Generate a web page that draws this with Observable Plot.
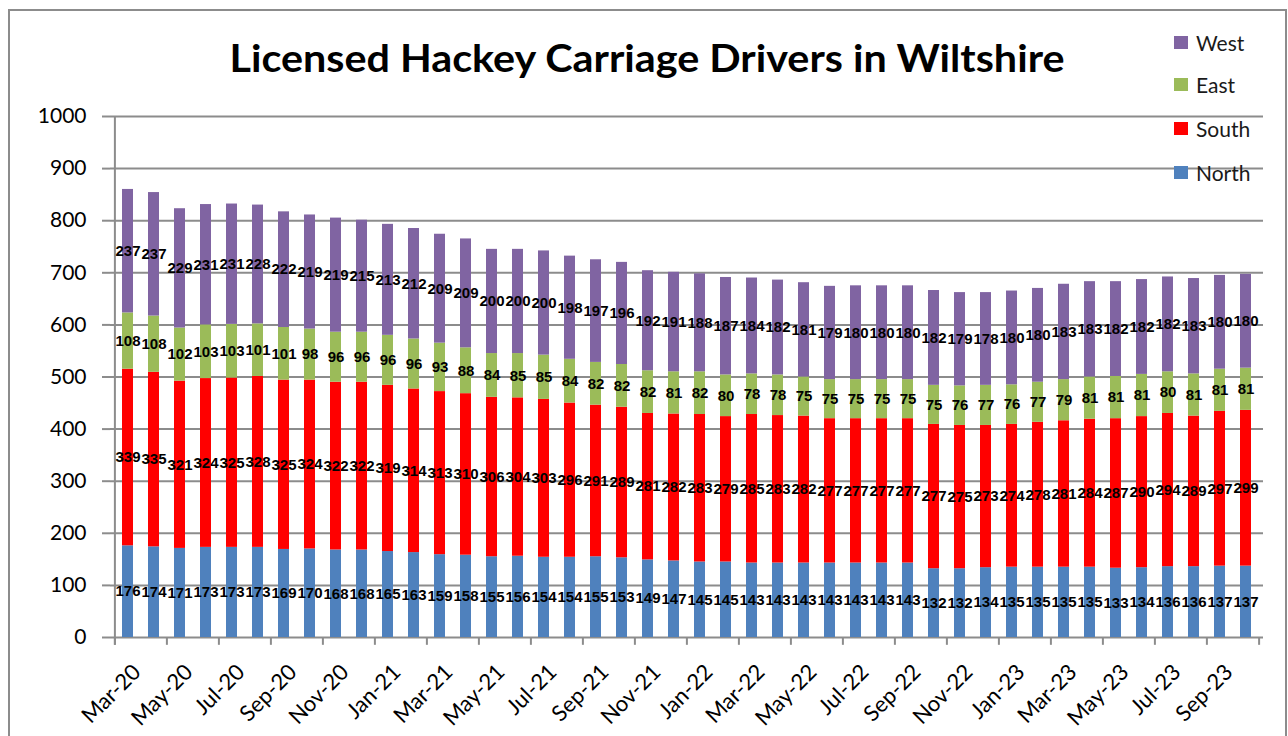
<!DOCTYPE html>
<html>
<head>
<meta charset="utf-8">
<script src="https://cdn.jsdelivr.net/npm/d3@7"></script>
<script src="https://cdn.jsdelivr.net/npm/@observablehq/plot@0.6"></script>
<style>
  body { margin: 0; background: #fff; }
  #wrap { position: relative; width: 1288px; height: 736px; overflow: hidden; font-family: Lato, "Liberation Sans", sans-serif; }
  #border { position: absolute; left: 8px; top: 9px; width: 1279px; height: 760px; border: 2px solid #8c8c8c; box-sizing: border-box; }
  #title { position: absolute; left: 0; top: 0; }
  #chart { position: absolute; left: 0; top: 0; }
  #legend { position: absolute; left: 1174px; top: 0; }
  .item { position: absolute; left: 0; height: 24px; display: flex; align-items: center; white-space: nowrap; font-size: 21px; color: #1a1a1a; }
  .sw { width: 14px; height: 13px; margin-right: 8px; }
</style>
</head>
<body>
<div id="wrap">
  <div id="border"></div>
  <div id="chart"></div>
  <svg id="title" width="1288" height="110"></svg>
  <div id="legend"></div>
</div>
<script>
const titleText = "Licensed Hackey Carriage Drivers in Wiltshire";

const months = ["Mar-20","Apr-20","May-20","Jun-20","Jul-20","Aug-20","Sep-20","Oct-20","Nov-20","Dec-20",
  "Jan-21","Feb-21","Mar-21","Apr-21","May-21","Jun-21","Jul-21","Aug-21","Sep-21","Oct-21","Nov-21","Dec-21",
  "Jan-22","Feb-22","Mar-22","Apr-22","May-22","Jun-22","Jul-22","Aug-22","Sep-22","Oct-22","Nov-22","Dec-22",
  "Jan-23","Feb-23","Mar-23","Apr-23","May-23","Jun-23","Jul-23","Aug-23","Sep-23","Oct-23"];

const north = [176,174,171,173,173,173,169,170,168,168,165,163,159,158,155,156,154,154,155,153,149,147,
  145,145,143,143,143,143,143,143,143,132,132,134,135,135,135,135,133,134,136,136,137,137];
const south = [339,335,321,324,325,328,325,324,322,322,319,314,313,310,306,304,303,296,291,289,281,282,
  283,279,285,283,282,277,277,277,277,277,275,273,274,278,281,284,287,290,294,289,297,299];
const east = [108,108,102,103,103,101,101,98,96,96,96,96,93,88,84,85,85,84,82,82,82,81,
  82,80,78,78,75,75,75,75,75,75,76,77,76,77,79,81,81,81,80,81,81,81];
const west = [237,237,229,231,231,228,222,219,219,215,213,212,209,209,200,200,200,198,197,196,192,191,
  188,187,184,182,181,179,180,180,180,182,179,178,180,180,183,183,182,182,182,183,180,180];

const regions = ["North","South","East","West"];
const colors = ["#4F81BD","#FF0000","#9BBB59","#8064A2"];
const yTicks = [0,100,200,300,400,500,600,700,800,900,1000];

const series = [north, south, east, west];
const data = months.flatMap((m, i) => regions.map((r, k) => ({month: m, region: r, value: series[k][i]})));
const labelMonths = months.filter((d, i) => i % 2 === 0);

const W = 1288, H = 736, ML = 110, MR = 25, MT = 116, MB = 99;
const step = (W - ML - MR) / months.length;
const grid = "#8c8c8c";

const chart = Plot.plot({
  width: W, height: H,
  marginLeft: ML, marginRight: MR, marginTop: MT, marginBottom: MB,
  style: {background: "transparent", fontFamily: "Lato, 'Liberation Sans', sans-serif", color: "#000"},
  x: {domain: months, paddingInner: 0.58, paddingOuter: 0.29, axis: null},
  y: {domain: [0, 1000], axis: null},
  color: {domain: regions, range: colors},
  marks: [
    Plot.ruleY(yTicks, {stroke: grid, strokeWidth: 2}),
    Plot.axisY({ticks: yTicks, tickSize: 8, tickFormat: () => "", stroke: grid, strokeWidth: 2, strokeOpacity: 1, label: null}),
    Plot.axisY({ticks: yTicks, tickSize: 0, tickPadding: 24, tickFormat: d => String(d), fontSize: 21, fill: "#000", label: null}),
    Plot.ruleX([months[0]], {dx: -step / 2, y1: -15, y2: 1000, stroke: grid, strokeWidth: 2}),
    Plot.ruleX(labelMonths, {x: d => d, dx: -step / 2, y1: 0, y2: -15, stroke: grid, strokeWidth: 2}),
    Plot.ruleX([months[months.length - 1]], {dx: step / 2, y1: 0, y2: -15, stroke: grid, strokeWidth: 2}),
    Plot.barY(data, {x: "month", y: "value", fill: "region", order: regions}),
    Plot.text(data, Plot.stackY({x: "month", y: "value", z: "region", order: regions, text: d => String(d.value),
      fontWeight: "bold", fontSize: 15, fill: "#000", fontFamily: "'Liberation Sans', sans-serif"})),
    Plot.axisX({ticks: labelMonths, tickSize: 0, tickRotate: -45, tickPadding: 31, dx: 9, fontSize: 22, fill: "#000", label: null})
  ]
});
document.getElementById("chart").appendChild(chart);

// title
const ts = d3.select("#title");
ts.append("text")
  .attr("x", 647).attr("y", 72)
  .attr("text-anchor", "middle")
  .attr("font-family", "Lato, 'Liberation Sans', sans-serif")
  .attr("font-weight", "bold").attr("font-size", 38)
  .attr("textLength", 835).attr("lengthAdjust", "spacingAndGlyphs")
  .text(titleText);

// legend
const legendY = [172.5, 128, 84.5, 42.5];
const leg = document.getElementById("legend");
regions.forEach((r, k) => {
  const it = document.createElement("div");
  it.className = "item";
  it.style.top = (legendY[k] - 12) + "px";
  it.innerHTML = `<span class="sw" style="background:${colors[k]}"></span><span>${r}</span>`;
  leg.appendChild(it);
});
</script>
</body>
</html>
